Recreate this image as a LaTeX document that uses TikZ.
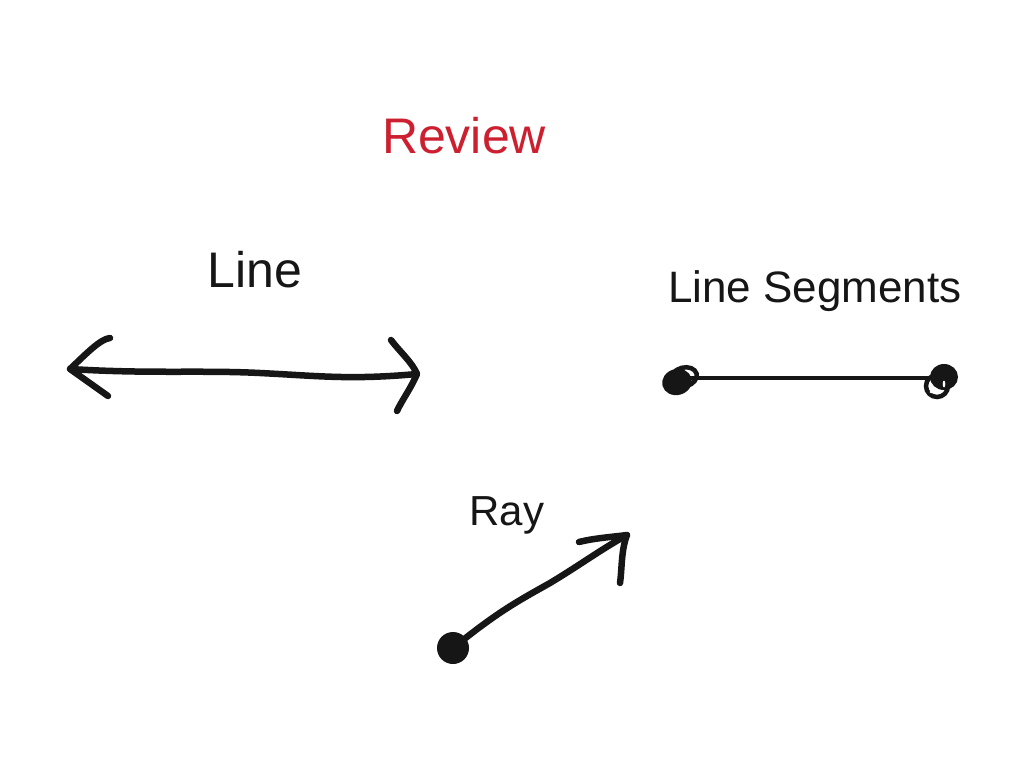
\documentclass[tikz,border=0pt]{standalone}
\usepackage{fontspec}
\usetikzlibrary{shapes.geometric}
\setmainfont{Liberation Sans}
\definecolor{reviewred}{RGB}{204,32,48}
\definecolor{ink}{RGB}{22,22,22}
\begin{document}
\begin{tikzpicture}[x=1pt,y=-1pt,
  pen/.style={draw=ink,line width=6.5pt,line cap=round,line join=round},
  lbl/.style={anchor=base,inner sep=0pt,text=ink}]
\useasboundingbox[fill=white] (0,0) rectangle (1024,768);
% titles
\node[lbl,text=reviewred,font=\fontsize{50}{60}\selectfont] (review) at (464,153) {Review};
\node[lbl,font=\fontsize{50}{60}\selectfont] (linelbl) at (255,287) {Line};
\node[lbl,font=\fontsize{44}{52}\selectfont] (seglbl) at (815,302) {Line Segments};
\node[lbl,font=\fontsize{42}{50}\selectfont] (raylbl) at (507,525) {Ray};
% Line
\coordinate (lA) at (70,369);
\coordinate (lB) at (417,374);
\draw[pen] (lA) .. controls (150,374) and (200,370) .. (260,373)
  .. controls (320,376) and (350,380) .. (lB);
\draw[pen] (110,338) .. controls (100,339) and (85,355) .. (lA) -- (108,396);
\draw[pen] (391,340) .. controls (400,352) and (412,362) .. (lB)
  .. controls (410,390) and (402,400) .. (397,411);
% Line segment
\coordinate (sA) at (682,378);
\coordinate (sB) at (938,378);
\draw[draw=ink,line width=3.5pt] (sA) -- (sB);
\node[ellipse,fill=ink,minimum width=30pt,minimum height=26pt,inner sep=0pt,rotate=15] (bA) at (677,382) {};
\node[ellipse,draw=ink,line width=4.5pt,minimum width=26pt,minimum height=19pt,inner sep=0pt,rotate=15] (bA2) at (684,377) {};
\node[ellipse,fill=ink,minimum width=28pt,minimum height=26pt,inner sep=0pt] (bB) at (944,377) {};
\node[circle,draw=ink,line width=4.5pt,minimum size=22pt,inner sep=0pt] (bB2) at (937,386) {};
\fill[white] (944,384) ellipse [x radius=1.3pt,y radius=3.5pt];
\fill[white] (933,392) ellipse [x radius=3.5pt,y radius=1.3pt];
% Ray
\node[circle,fill=ink,minimum size=32pt,inner sep=0pt] (dot) at (453,648) {};
\coordinate (rT) at (627,535);
\draw[pen] (dot.center) .. controls (500,610) and (520,600) .. (550,583)
  .. controls (580,565) and (600,550) .. (rT);
\draw[pen] (579,542) .. controls (595,538) and (612,537) .. (rT)
  .. controls (621,550) and (622,570) .. (620,583);
\end{tikzpicture}
\end{document}
